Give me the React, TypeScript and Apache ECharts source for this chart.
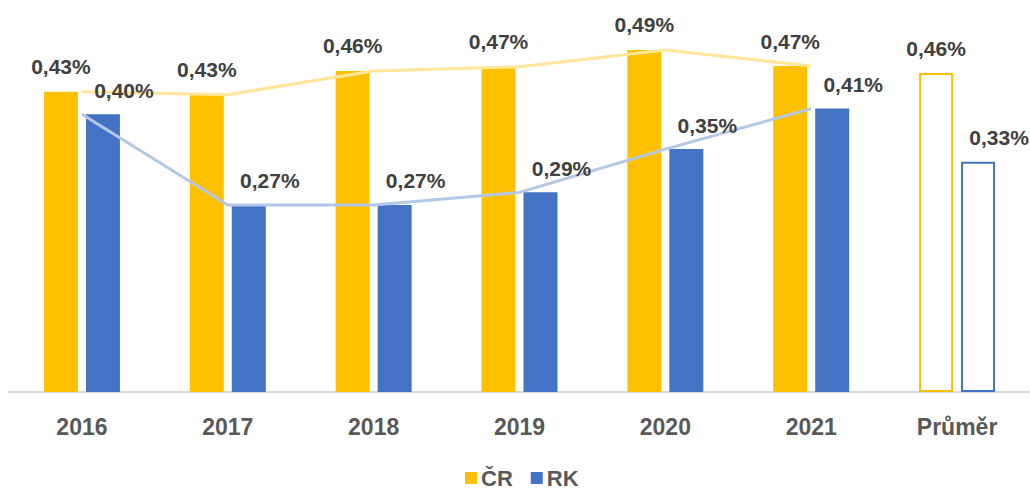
import React, { useEffect, useRef } from "react";
import * as echarts from "echarts";

const categories = ["2016", "2017", "2018", "2019", "2020", "2021", "Průměr"];
const crValues = [0.43, 0.426, 0.46, 0.466, 0.49, 0.467, 0.457];
const rkValues = [0.398, 0.268, 0.268, 0.286, 0.348, 0.406, 0.33];
const crTrend = [0.43, 0.426, 0.46, 0.466, 0.49, 0.467, null];
const rkTrend = [0.398, 0.268, 0.268, 0.286, 0.348, 0.406, null];

const CR_COLOR = "#FFC000";
const RK_COLOR = "#4472C4";
const FONT = "'Liberation Sans', Arial, sans-serif";

const fmt = (v: number) => v.toFixed(2).replace(".", ",") + "%";

export default function App() {
  const ref = useRef<HTMLDivElement>(null);
  useEffect(() => {
    if (!ref.current) return;
    const chart = echarts.init(ref.current, null, { renderer: "svg" });
    const hollow = (color: string) => ({
      color: "#ffffff",
      borderColor: color,
      borderWidth: 2,
    });
    const barData = (vals: number[], color: string) =>
      vals.map((v, i) =>
        i === vals.length - 1 ? { value: v, itemStyle: hollow(color) } : { value: v }
      );
    const labelBase = {
      show: true,
      position: "top" as const,
      fontFamily: FONT,
      fontWeight: "bold" as const,
      fontSize: 21,
      lineHeight: 24,
      color: "#404040",
      formatter: (p: any) => fmt(p.value),
    };
    const axisBase = {
      type: "category" as const,
      data: categories,
      axisTick: { show: false },
    };
    chart.setOption({
      animation: false,
      backgroundColor: "#ffffff",
      grid: { left: 9, width: 1024, top: 43, bottom: 100 },
      legend: {
        data: ["ČR", "RK"],
        left: 465,
        top: 467,
        padding: 0,
        icon: "rect",
        itemWidth: 12,
        itemHeight: 12,
        itemGap: 18,
        textStyle: {
          fontFamily: FONT,
          fontWeight: "bold",
          fontSize: 22,
          lineHeight: 22,
          color: "#595959",
          padding: [0, 0, 0, -1],
        },
      },
      xAxis: [
        {
          ...axisBase,
          axisLine: { show: true, lineStyle: { color: "#D9D9D9", width: 2 } },
          axisLabel: {
            margin: 23,
            fontFamily: FONT,
            fontWeight: "bold",
            fontSize: 23,
            lineHeight: 24,
            color: "#595959",
          },
        },
        {
          ...axisBase,
          show: false,
        },
      ],
      yAxis: {
        type: "value",
        min: 0,
        max: 0.5,
        show: false,
        splitLine: { show: false },
      },
      series: [
        {
          name: "ČR",
          type: "bar",
          barWidth: 34,
          barGap: "23.5%",
          itemStyle: { color: CR_COLOR },
          data: barData(crValues, CR_COLOR),
          z: 2,
        },
        {
          name: "RK",
          type: "bar",
          barWidth: 34,
          itemStyle: { color: RK_COLOR },
          data: barData(rkValues, RK_COLOR),
          z: 2,
        },
        {
          name: "ČR trend",
          type: "line",
          data: crTrend,
          symbol: "none",
          lineStyle: { color: "#FFE699", width: 3 },
          z: 3,
          silent: true,
        },
        {
          name: "RK trend",
          type: "line",
          data: rkTrend,
          symbol: "none",
          lineStyle: { color: "#B4C7E7", width: 3 },
          z: 3,
          silent: true,
        },
        {
          name: "ČR labels",
          type: "bar",
          xAxisIndex: 1,
          barWidth: 34,
          barGap: "23.5%",
          itemStyle: { color: "rgba(0,0,0,0)" },
          data: crValues,
          label: { ...labelBase, distance: 13 },
          z: 5,
          silent: true,
        },
        {
          name: "RK labels",
          type: "bar",
          xAxisIndex: 1,
          barWidth: 34,
          itemStyle: { color: "rgba(0,0,0,0)" },
          data: rkValues,
          label: { ...labelBase, distance: 12, offset: [21, 0] },
          z: 5,
          silent: true,
        },
      ],
    });
    return () => chart.dispose();
  }, []);
  return (
    <div
      ref={ref}
      style={{ position: "fixed", left: 0, top: 0, width: 1030, height: 492 }}
    />
  );
}
